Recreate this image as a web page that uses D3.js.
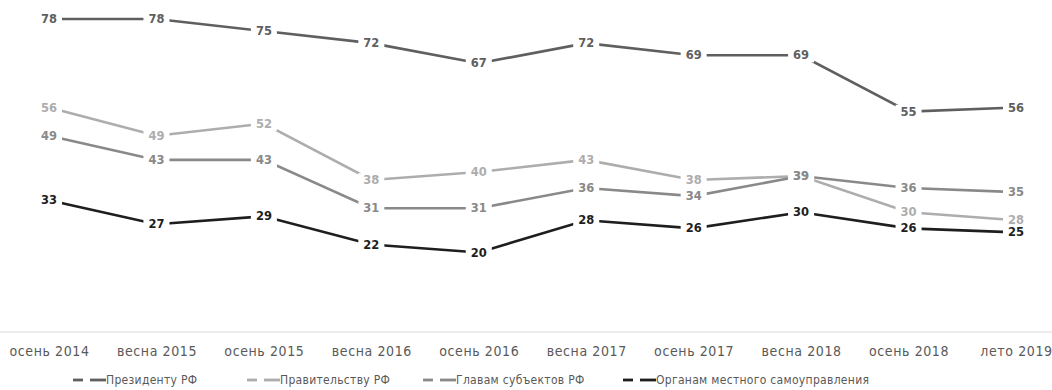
<!DOCTYPE html>
<html>
<head>
<meta charset="utf-8">
<script src="https://cdn.jsdelivr.net/npm/d3@7"></script>
<style>
  body { margin: 0; background: #fff; }
  svg { display: block; }
</style>
</head>
<body>
<svg id="chart" width="1052" height="390"></svg>
<script>
const CATEGORIES = ["осень 2014", "весна 2015", "осень 2015", "весна 2016", "осень 2016",
  "весна 2017", "осень 2017", "весна 2018", "осень 2018", "лето 2019"]

const PRESIDENT = [78, 78, 75, 72, 67, 72, 69, 69, 55, 56]
const GOVERNMENT = [56, 49, 52, 38, 40, 43, 38, 39, 30, 28]
const GOVERNORS = [49, 43, 43, 31, 31, 36, 34, 39, 36, 35]
const LOCAL = [33, 27, 29, 22, 20, 28, 26, 30, 26, 25]

const SERIES_NAMES = ["Президенту РФ", "Правительству РФ", "Главам субъектов РФ", "Органам местного самоуправления"]

const SERIES = [
  {name: SERIES_NAMES[0], values: PRESIDENT, color: "#5f5f5f"},
  {name: SERIES_NAMES[1], values: GOVERNMENT, color: "#adadad"},
  {name: SERIES_NAMES[2], values: GOVERNORS, color: "#898989"},
  {name: SERIES_NAMES[3], values: LOCAL, color: "#1e1e1e"}
]

const svg = d3.select("#chart")
const AXIS_FONT = "'DejaVu Sans Condensed', 'DejaVu Sans', sans-serif"

const x = d3.scalePoint()
  .domain(CATEGORIES)
  .range([49, 1016])

const y = d3.scaleLinear()
  .domain([0, 78])
  .range([333, 19])

// baseline
svg.append("line")
  .attr("x1", 0).attr("x2", 1052)
  .attr("y1", y(0) - 1).attr("y2", y(0) - 1)
  .attr("stroke", "#d9d9d9")
  .attr("stroke-width", 1)

// category labels
const xAxis = svg.append("g")
  .attr("transform", `translate(0, ${y(0)})`)
  .call(d3.axisBottom(x).tickSize(0).tickPadding(13))
xAxis.select(".domain").remove()
xAxis.selectAll("text")
  .attr("fill", "#595959")
  .style("font-family", AXIS_FONT)
  .style("font-size", "14px")
  .style("letter-spacing", "0.6px")

const line = d3.line()
  .x((d, i) => x(CATEGORIES[i]))
  .y(d => y(d))

const lines = svg.append("g")
SERIES.forEach(s => {
  lines.append("path")
    .datum(s.values)
    .attr("d", line)
    .attr("fill", "none")
    .attr("stroke", s.color)
    .attr("stroke-width", 2.6)
})

// data labels: white boxes cut the lines, then the numbers
const labelData = []
SERIES.forEach(s => {
  s.values.forEach((v, i) => labelData.push({v: v, cx: x(CATEGORIES[i]), cy: y(v), color: s.color}))
})

const boxes = svg.append("g")
const labels = svg.append("g")
labelData.forEach(d => {
  const t = labels.append("text")
    .attr("x", d.cx)
    .attr("y", d.cy)
    .attr("dy", "0.36em")
    .attr("text-anchor", "middle")
    .attr("fill", d.color)
    .style("font-family", "'DejaVu Sans', sans-serif")
    .style("font-weight", "bold")
    .style("font-size", "11.5px")
    .text(d.v)
  const bb = t.node().getBBox()
  boxes.append("rect")
    .attr("x", bb.x - 5)
    .attr("y", bb.y)
    .attr("width", bb.width + 10)
    .attr("height", bb.height)
    .attr("fill", "#fff")
})

// legend
const LEGEND_X = [70, 244, 420, 620]
const legend = svg.append("g").attr("transform", "translate(0, 380)")
SERIES.forEach((s, i) => {
  const g = legend.append("g").attr("transform", `translate(${LEGEND_X[i]}, 0)`)
  g.append("line").attr("x1", 3).attr("x2", 13).attr("y1", 0).attr("y2", 0)
    .attr("stroke", s.color).attr("stroke-width", 2.8)
  g.append("line").attr("x1", 20).attr("x2", 36).attr("y1", 0).attr("y2", 0)
    .attr("stroke", s.color).attr("stroke-width", 2.8)
  g.append("text")
    .attr("x", 36)
    .attr("y", 0)
    .attr("dy", "0.35em")
    .attr("fill", "#595959")
    .style("font-family", AXIS_FONT)
    .style("font-size", "12px")
    .style("letter-spacing", "0.3px")
    .text(s.name)
})
</script>
</body>
</html>
